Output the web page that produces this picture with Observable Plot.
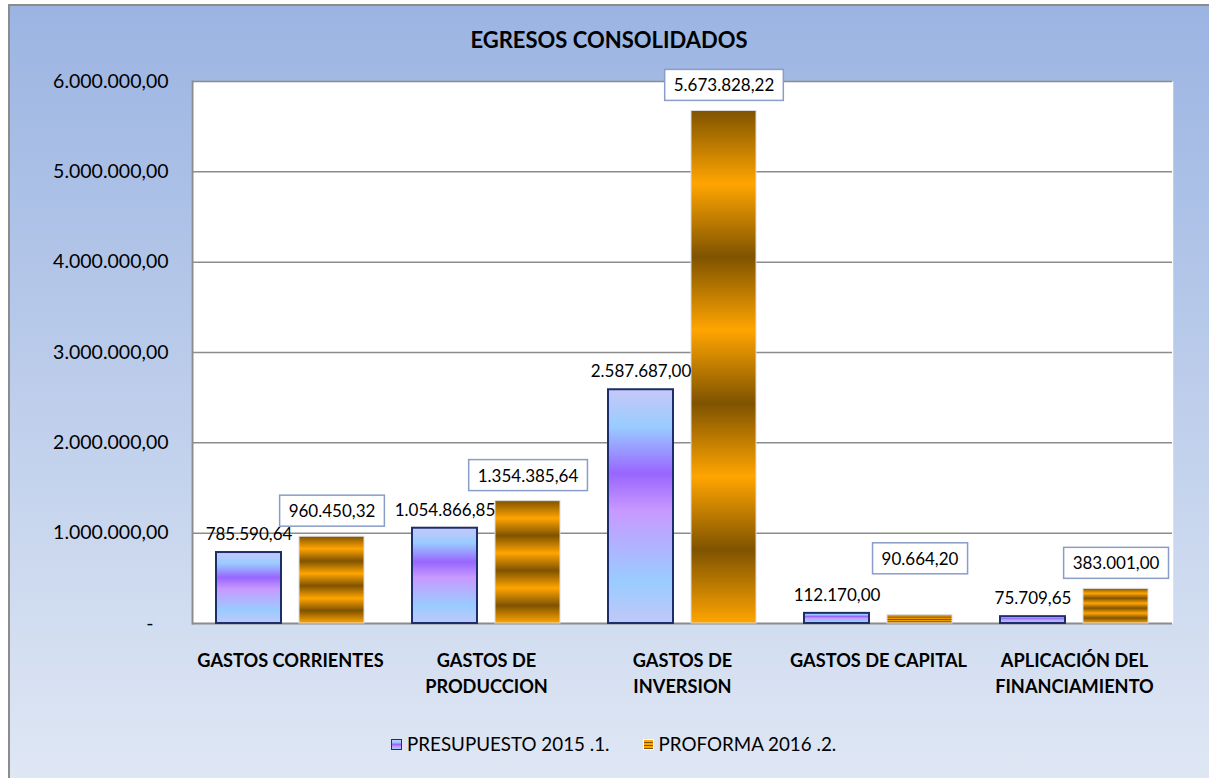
<!DOCTYPE html>
<html>
<head>
<meta charset="utf-8">
<script src="https://cdn.jsdelivr.net/npm/d3@7"></script>
<script src="https://cdn.jsdelivr.net/npm/@observablehq/plot@0.6"></script>
<style>
  body { margin: 0; }
  #wrap { position: relative; width: 1209px; height: 778px; overflow: hidden; font-family: Lato, "Open Sans", sans-serif; color: #000; }
  #bg { position: absolute; left: 8px; top: 4px; width: 1260px; height: 820px; border: 2px solid #8c8c8c;
        background: linear-gradient(#9bb4e2 0px, #dfe7f4 774px, #dfe7f4 100%); }
  #chart { position: absolute; left: 0; top: 0; }
  #title { position: absolute; left: 0; width: 1218px; top: 27px; text-align: center; font-weight: bold; font-size: 22px; line-height: 26px; }
  #legend { position: absolute; left: 391px; top: 733px; display: flex; align-items: center; font-size: 18.8px; line-height: 22px; }
  .sw { display: inline-block; width: 9px; height: 9px; margin-right: 5px; }
  .sw.pre { border: 1.5px solid #1c2f6b; background: linear-gradient(#c8c8fa, #99ccff 25%, #9966ff 50%, #cc99ff 75%, #99ccff); }
  .sw.pro { border: 1px solid #ffffff; background: repeating-linear-gradient(#ffa500 0 1.5px, #7f5300 1.5px 3px); }
  .item { display: flex; align-items: center; margin-right: 33px; }
</style>
</head>
<body>
<div id="wrap">
  <div id="bg"></div>
  <div id="chart"></div>
  <div id="title">EGRESOS CONSOLIDADOS</div>
  <div id="legend"></div>
</div>
<script>
// ---- data ----
const categories = ["GASTOS CORRIENTES", "GASTOS DE\nPRODUCCION", "GASTOS DE\nINVERSION", "GASTOS DE CAPITAL", "APLICACIÓN DEL\nFINANCIAMIENTO"];
const series = ["PRESUPUESTO 2015 .1.", "PROFORMA 2016 .2."];
const presupuesto = [785590.64, 1054866.85, 2587687.00, 112170.00, 75709.65];
const proforma = [960450.32, 1354385.64, 5673828.22, 90664.20, 383001.00];
const yTicks = [0, 1000000, 2000000, 3000000, 4000000, 5000000, 6000000];

// ---- build ----
const fmt = d3.formatLocale({decimal: ",", thousands: ".", grouping: [3], currency: ["", ""]}).format(",.2f");
const preRows = categories.map((c, i) => ({category: c, series: series[0], value: presupuesto[i]}));
const proRows = categories.map((c, i) => ({category: c, series: series[1], value: proforma[i], other: presupuesto[i]}));

const chart = Plot.plot({
  width: 1209,
  height: 778,
  marginLeft: 191,
  marginRight: 36,
  marginTop: 81,
  marginBottom: 155,
  style: {background: "transparent", fontFamily: "Lato, 'Open Sans', sans-serif", fontSize: "17px", color: "#000", overflow: "visible"},
  fx: {domain: categories, padding: 0, label: null},
  x: {domain: series, paddingInner: 0.22, paddingOuter: 0.28, axis: null},
  y: {domain: [0, 6000000], label: null},
  marks: [
    Plot.frame({fill: "white", stroke: null, insetLeft: -0.75, insetRight: -0.75}),
    Plot.gridY(yTicks.slice(1), {stroke: "#8c8c8c", strokeOpacity: 1, strokeWidth: 1.5}),
    Plot.ruleY([0], {stroke: "#8c8c8c", strokeWidth: 2}),
    Plot.frame({anchor: "left", stroke: "#8c8c8c", strokeWidth: 2, facetAnchor: "left"}),
    Plot.axisY({ticks: yTicks, tickFormat: d => d === 0 ? "-\u00a0\u00a0\u00a0" : fmt(d), tickSize: 0, tickPadding: 24, fontSize: 19.5, label: null}),
    Plot.axisFx({anchor: "bottom", tickSize: 0, tickPadding: 25, fontSize: 18.2, fontWeight: "bold", lineHeight: 1.42, label: null}),
    Plot.barY(preRows, {fx: "category", x: "series", y: "value", fill: "url(#gPre)", stroke: "#1c2f6b", strokeWidth: 2}),
    Plot.barY(proRows, {fx: "category", x: "series", y: "value", fill: "url(#gPro)", stroke: "#dcdcdc", strokeWidth: 1}),
    Plot.text(preRows, {fx: "category", x: "series", y: "value", text: d => fmt(d.value), dy: -18, lineAnchor: "middle", fontSize: 17, fill: "#000"}),
    Plot.text(proRows.filter(d => d.value >= d.other), {fx: "category", x: "series", y: "value", text: d => fmt(d.value), dy: -25, lineAnchor: "middle", fontSize: 17, fill: "#000", className: "boxed"}),
    Plot.text(proRows.filter(d => d.value < d.other), {fx: "category", x: "series", y: "other", text: d => fmt(d.value), dy: -54, lineAnchor: "middle", fontSize: 17, fill: "#000", className: "boxed"})
  ]
});
document.getElementById("chart").appendChild(chart);

// gradients
const svg = d3.select(chart);
const defs = svg.insert("defs", ":first-child");
const gPre = defs.append("linearGradient").attr("id", "gPre").attr("x1", 0).attr("y1", 0).attr("x2", 0).attr("y2", 1);
[[0, "#c6c8f8"], [0.16, "#99ccff"], [0.36, "#9966ff"], [0.52, "#c899ff"], [0.82, "#99ccff"], [1, "#c0c8f8"]]
  .forEach(([o, c]) => gPre.append("stop").attr("offset", o).attr("stop-color", c));
const gPro = defs.append("linearGradient").attr("id", "gPro").attr("x1", 0).attr("y1", 0).attr("x2", 0).attr("y2", 1);
d3.range(8).forEach(i => gPro.append("stop").attr("offset", i / 7).attr("stop-color", i % 2 ? "#ffa500" : "#7f5300"));

// boxes behind proforma labels
svg.selectAll("g.boxed text").each(function() {
  const b = this.getBBox();
  const padX = 9, padY = 5;
  d3.select(this.parentNode).insert("rect", () => this)
    .attr("x", b.x - padX).attr("y", b.y - padY)
    .attr("width", b.width + 2 * padX).attr("height", b.height + 2 * padY)
    .attr("transform", this.getAttribute("transform"))
    .attr("fill", "white").attr("stroke", "#8a9cc8").attr("stroke-width", 1.5);
});

// legend
const legend = d3.select("#legend");
series.forEach((s, i) => {
  const it = legend.append("div").attr("class", "item");
  it.append("span").attr("class", "sw " + (i === 0 ? "pre" : "pro"));
  it.append("span").text(s);
});
</script>
</body>
</html>
